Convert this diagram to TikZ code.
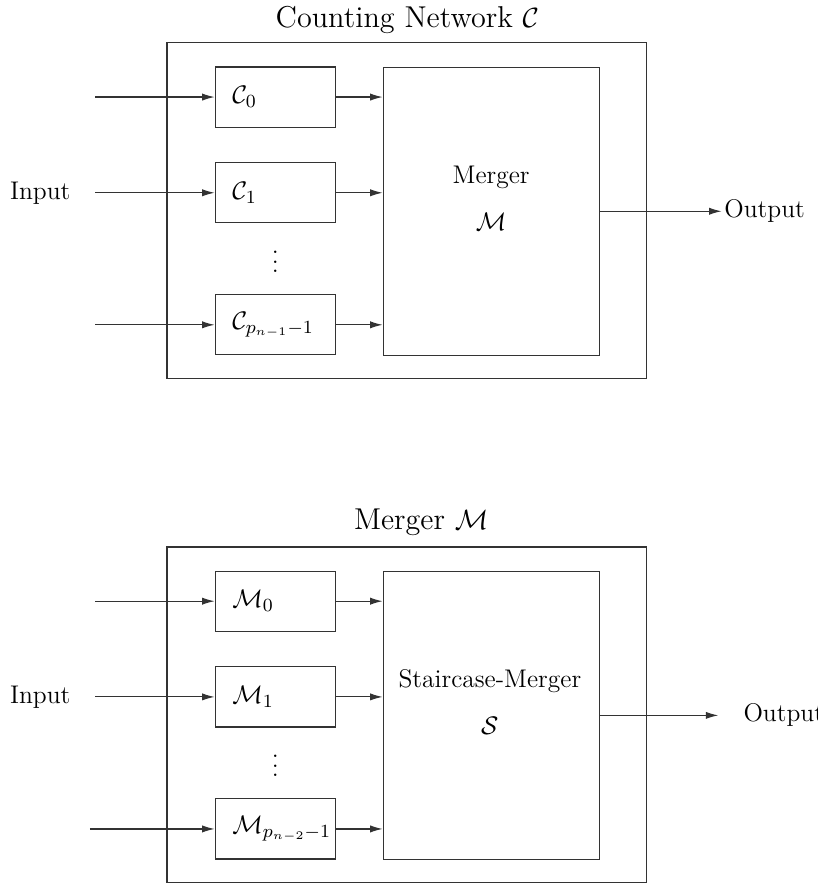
\documentclass[tikz,border=0pt]{standalone}
\usepackage{tikz}
\usetikzlibrary{positioning,arrows.meta}

\begin{document}
\begin{tikzpicture}[
    box/.style={draw=black!80, line width=0.5pt},
    unit/.style={box, minimum width=1.82cm, minimum height=0.91cm, inner ysep=0pt,
        inner xsep=0.26cm, text width=1.30cm, align=left, font=\fontsize{11}{13}\selectfont},
    bigbox/.style={box, minimum width=3.27cm, minimum height=4.36cm},
    frame/.style={box, minimum width=7.26cm, minimum height=5.08cm},
    wire/.style={draw=black!80, line width=0.5pt, -{Latex[length=1.9mm,width=1.1mm]}},
    txt/.style={font=\fontsize{11}{13}\selectfont},
    title/.style={font=\fontsize{13}{16}\selectfont}
]
\useasboundingbox (0,0) rectangle (12.38,-13.39);

% Counting network
\begin{scope}[shift={(0,0)}]
    \node[title] (ctitle) at (6.17,-0.30) {Counting Network $\mathcal{C}$};
    \node[frame] (cframe) at (6.16,-3.19) {};

    \node[unit] (c0) at (4.17,-1.47) {$\mathcal{C}_0$};
    \node[unit] (c1) at (4.17,-2.92) {$\mathcal{C}_1$};
    \node[txt] (cdots) at (4.17,-3.86) {$\vdots$};
    \node[unit] (cp) at (4.17,-4.92) {$\mathcal{C}_{p_{n-1}-1}$};

    \node[bigbox] (cmerger) at (7.44,-3.20) {};
    \node[txt, align=center] (cmlabel) at (7.44,-3.00) {Merger\\[0.25cm]$\mathcal{M}$};

    \node[txt] (cin) at (0.61,-2.92) {Input};
    \node[txt, anchor=west, inner sep=1pt] (cout) at (10.93,-3.20) {Output};

    \coordinate (cin0) at (1.44,-1.47);
    \coordinate (cin1) at (1.44,-2.92);
    \coordinate (cin2) at (1.44,-4.92);

    \draw[wire] (cin0) -- (c0);
    \draw[wire] (cin1) -- (c1);
    \draw[wire] (cin2) -- (cp);
    \draw[wire] (c0.east) -- (c0.east -| cmerger.west);
    \draw[wire] (c1.east) -- (c1.east -| cmerger.west);
    \draw[wire] (cp.east) -- (cp.east -| cmerger.west);
    \draw[wire] (cmerger.east) -- (cout.west);
\end{scope}

% Merger
\begin{scope}[shift={(0,-7.636)}]
    \node[title] (mtitle) at (6.38,-0.27) {Merger $\mathcal{M}$};
    \node[frame] (mframe) at (6.16,-3.19) {};

    \node[unit] (m0) at (4.17,-1.47) {$\mathcal{M}_0$};
    \node[unit] (m1) at (4.17,-2.92) {$\mathcal{M}_1$};
    \node[txt] (mdots) at (4.17,-3.86) {$\vdots$};
    \node[unit] (mp) at (4.17,-4.92) {$\mathcal{M}_{p_{n-2}-1}$};

    \node[bigbox] (stair) at (7.44,-3.20) {};
    \node[txt, align=center] (slabel) at (7.42,-3.00) {Staircase-Merger\\[0.25cm]$\mathcal{S}$};

    \node[txt] (min) at (0.61,-2.92) {Input};
    \node[txt, anchor=west, inner sep=1pt] (mout) at (11.22,-3.20) {Output};

    \coordinate (min0) at (1.44,-1.47);
    \coordinate (min1) at (1.44,-2.92);
    \coordinate (min2) at (1.36,-4.92);

    \draw[wire] (min0) -- (m0);
    \draw[wire] (min1) -- (m1);
    \draw[wire] (min2) -- (mp);
    \draw[wire] (m0.east) -- (m0.east -| stair.west);
    \draw[wire] (m1.east) -- (m1.east -| stair.west);
    \draw[wire] (mp.east) -- (mp.east -| stair.west);
    \draw[wire, shorten >=0.34cm] (stair.east) -- (mout.west);
\end{scope}

\end{tikzpicture}
\end{document}
